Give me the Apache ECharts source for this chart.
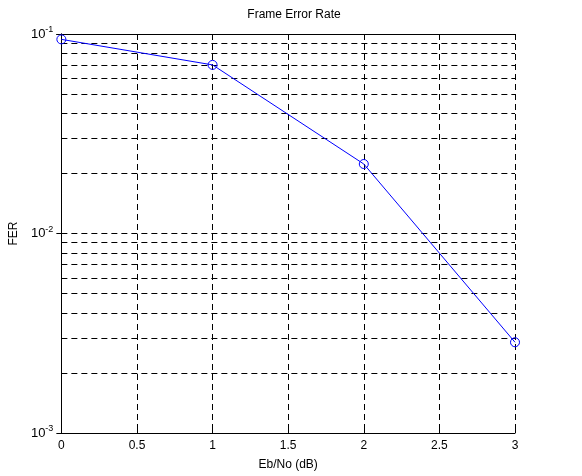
<!DOCTYPE html>
<html><head><meta charset="utf-8">
<script src="https://cdn.jsdelivr.net/npm/echarts@6/dist/echarts.min.js"></script>
<style>html,body{margin:0;padding:0;background:#fff}#c{width:582px;height:476px}</style>
</head><body><div id="c"></div>
<script>
const ebno = [0, 1, 2, 3];
const fer = [0.094, 0.070, 0.0223, 0.00285];
const minorGridValues = [0.002,0.003,0.004,0.005,0.006,0.007,0.008,0.009,0.02,0.03,0.04,0.05,0.06,0.07,0.08,0.09];
const decadeExponents = {0.001:'-3', 0.01:'-2', 0.1:'-1'};
const xMin = 0, xMax = 3;

const chart = echarts.init(document.getElementById('c'));
const font = 'Liberation Sans, Arial, sans-serif';
const dash = [6,4];
const pairs = ebno.map((x,i)=>[x, fer[i]]);
chart.setOption({
  animation:false,
  backgroundColor:'#fff',
  title:{text:'Frame Error Rate', left:289, top:4, textAlign:'center',
    textStyle:{fontFamily:font, fontSize:12, fontWeight:'normal', color:'#000'}},
  grid:{left:61, right:67, top:34, bottom:43},
  xAxis:[{type:'value', min:xMin, max:xMax, interval:0.5, name:'Eb/No (dB)', nameLocation:'middle', nameGap:26,
    nameTextStyle:{fontFamily:font, fontSize:12, color:'#000'},
    axisLine:{lineStyle:{color:'#000', width:1}},
    axisTick:{inside:true, length:5, lineStyle:{color:'#000'}},
    axisLabel:{fontFamily:font, fontSize:12, color:'#000', margin:7, formatter:v=>String(v)},
    splitLine:{show:true, lineStyle:{color:'#000', type:dash, width:1}}},
   {type:'value', position:'top', min:xMin, max:xMax, interval:0.5,
    axisLine:{show:true, lineStyle:{color:'#000'}}, axisTick:{inside:true, length:5, lineStyle:{color:'#000'}},
    axisLabel:{show:false}, splitLine:{show:false}}],
  yAxis:[{type:'log', logBase:10, min:0.001, max:0.1, name:'FER', nameLocation:'middle', nameGap:38, nameRotate:90,
    nameTextStyle:{fontFamily:font, fontSize:12, color:'#000'},
    axisLine:{show:true, lineStyle:{color:'#000', width:1}},
    axisTick:{show:true, inside:true, length:5, lineStyle:{color:'#000'}},
    axisLabel:{fontFamily:font, color:'#000', margin:8,
      formatter:v=>{const k=Object.keys(decadeExponents).find(d=>Math.abs(Math.log10(+d)-Math.log10(v))<1e-6); return k?'{b|10}{s|'+decadeExponents[k]+'}':'';},
      rich:{b:{fontSize:13, fontFamily:font, color:'#000'}, s:{fontSize:9, fontFamily:font, color:'#000', verticalAlign:'top', padding:[0,0,8,0]}}},
    splitLine:{show:true, lineStyle:{color:'#000', type:dash, width:1}}},
   {type:'log', logBase:10, min:0.001, max:0.1, position:'right',
    axisLine:{show:true, lineStyle:{color:'#000'}}, axisTick:{show:true, inside:true, length:5, lineStyle:{color:'#000'}},
    axisLabel:{show:false}, splitLine:{show:false}}],
  series:[
    {type:'line', data:pairs, showSymbol:false, silent:true, z:1, lineStyle:{opacity:0},
     markLine:{silent:true, symbol:['none','none'], label:{show:false},
       lineStyle:{color:'#000', type:dash, width:1},
       data:minorGridValues.map(v=>[{coord:[xMin,v]},{coord:[xMax,v]}])}},
    {type:'line', data:pairs, z:5, symbol:'circle', symbolSize:9,
     lineStyle:{color:'#0000ff', width:1},
     itemStyle:{color:'rgba(0,0,0,0)', borderColor:'#0000ff', borderWidth:1}}
  ]
});
</script></body></html>
